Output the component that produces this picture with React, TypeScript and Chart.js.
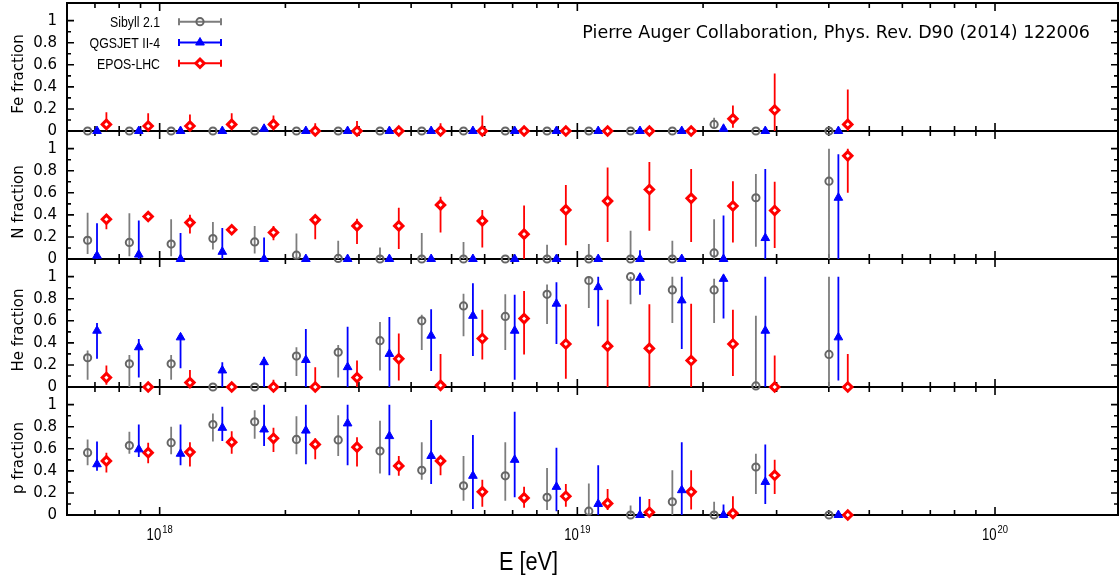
import React, { useEffect, useRef } from 'react';
import { Chart, registerables } from 'chart.js';

Chart.register(...registerables);

// ---------- data ----------
// energy bin centres, log10(E / eV)
const lgEnergy = [17.85, 17.95, 18.05, 18.15, 18.25, 18.35, 18.45, 18.55, 18.65, 18.75, 18.85, 18.95, 19.05, 19.15, 19.25, 19.35, 19.45, 19.625];

const modelNames = ['Sibyll 2.1', 'QGSJET II-4', 'EPOS-LHC'];
const panelTitles = ['Fe fraction', 'N fraction', 'He fraction', 'p fraction'];
const xTickValues = [1e18, 1e19, 1e20];
const xTickLabels = [['10', '18'], ['10', '19'], ['10', '20']];
const xTitle = 'E [eV]';
const noteText = 'Pierre Auger Collaboration, Phys. Rev. D90 (2014) 122006';

// each row: [fraction, lower end of error bar, upper end of error bar]
const feSibyll = [[0,0,0],[0,0,0],[0,0,0],[0,0,0],[0,0,0],[0,0,0],[0,0,0],[0,0,0],[0,0,0],[0,0,0],[0,0,0],[0,0,0],[0,0,0],[0,0,0],[0,0,0],[0.06,0.03,0.12],[0,0,0],[0,0,0.01]];
const feQgsjet = [[0,0,0],[0,0,0],[0,0,0],[0,0,0],[0.02,0,0.03],[0,0,0],[0,0,0],[0,0,0],[0,0,0],[0,0,0],[0,0,0],[0,0,0],[0,0,0],[0,0,0],[0,0,0],[0.02,0,0.05],[0,0,0],[0,0,0]];
const feEpos = [[0.06,0.02,0.17],[0.045,0,0.16],[0.045,0,0.15],[0.06,0.02,0.16],[0.06,0.03,0.14],[0,0,0.07],[0,0,0.09],[0,0,0.03],[0,0,0.07],[0,0,0.14],[0,0,0.02],[0,0,0.02],[0,0,0.01],[0,0,0.01],[0,0,0.01],[0.11,0.03,0.23],[0.19,0,0.52],[0.06,0,0.375]];

const nSibyll = [[0.17,0.045,0.42],[0.15,0.025,0.415],[0.135,0.025,0.36],[0.185,0.085,0.335],[0.155,0.05,0.30],[0.035,0,0.23],[0.005,0,0.165],[0,0,0.105],[0,0,0.235],[0,0,0.155],[0,0,0],[0,0,0.13],[0,0,0.135],[0,0,0.255],[0,0,0.165],[0.055,0,0.36],[0.555,0.11,0.77],[0.705,0,1.0]];
const nQgsjet = [[0.03,0,0.325],[0.04,0,0.35],[0,0,0.235],[0.065,0,0.28],[0,0,0.195],[0,0,0.01],[0,0,0],[0,0,0],[0,0,0],[0,0,0],[0,0,0.02],[0,0,0],[0,0,0],[0,0,0.08],[0,0,0],[0,0,0.395],[0.19,0,0.815],[0.555,0,0.95]];
const nEpos = [[0.36,0.27,0.405],[0.385,0.35,0.41],[0.33,0.23,0.40],[0.265,0.24,0.29],[0.24,0.17,0.30],[0.355,0.18,0.385],[0.30,0.135,0.365],[0.30,0.09,0.465],[0.49,0.24,0.565],[0.345,0.105,0.445],[0.225,0,0.485],[0.445,0.125,0.67],[0.525,0.155,0.83],[0.63,0.255,0.88],[0.55,0.155,0.815],[0.48,0.15,0.705],[0.44,0.10,0.70],[0.935,0.60,1.0]];

const heSibyll = [[0.265,0.065,0.33],[0.21,0,0.29],[0.21,0.065,0.29],[0,0,0],[0,0,0],[0.28,0.10,0.36],[0.315,0.085,0.38],[0.42,0.15,0.59],[0.60,0.335,0.655],[0.735,0.46,0.845],[0.64,0.335,0.84],[0.84,0.57,0.93],[0.965,0.715,1.0],[1.0,0.75,1.0],[0.88,0.58,1.0],[0.88,0.58,0.98],[0.01,0,0.645],[0.295,0,1.0]];
const heQgsjet = [[0.51,0.255,0.58],[0.36,0.085,0.435],[0.45,0.17,0.475],[0.15,0,0.225],[0.225,0,0.275],[0.245,0,0.525],[0.18,0,0.545],[0.30,0,0.635],[0.465,0.145,0.705],[0.645,0.28,0.94],[0.51,0.065,0.835],[0.755,0.39,0.95],[0.905,0.55,1.0],[0.99,0.835,1.0],[0.785,0.345,1.0],[0.98,0.62,1.0],[0.51,0,1.0],[0.45,0.06,1.0]];
const heEpos = [[0.085,0.02,0.195],[0,0,0.01],[0.04,0,0.155],[0,0,0.01],[0,0,0.065],[0,0,0.18],[0.085,0,0.24],[0.255,0.06,0.485],[0.015,0,0.30],[0.44,0.25,0.70],[0.62,0.295,0.87],[0.39,0.075,0.75],[0.37,0,0.79],[0.35,0,0.75],[0.24,0,0.755],[0.39,0.10,0.70],[0,0,0.285],[0,0,0.30]];

const pSibyll = [[0.565,0.45,0.685],[0.63,0.555,0.755],[0.655,0.55,0.80],[0.82,0.665,0.92],[0.845,0.69,0.95],[0.685,0.55,0.895],[0.68,0.535,0.905],[0.58,0.375,0.855],[0.405,0.32,0.66],[0.265,0.13,0.535],[0.355,0.13,0.66],[0.16,0.045,0.425],[0.035,0,0.285],[0,0,0.085],[0.12,0,0.405],[0,0,0.12],[0.435,0.19,0.555],[0,0,0.01]];
const pQgsjet = [[0.46,0.40,0.665],[0.595,0.525,0.82],[0.555,0.45,0.82],[0.79,0.67,0.98],[0.775,0.625,1.0],[0.765,0.46,1.0],[0.83,0.45,1.0],[0.715,0.36,1.0],[0.535,0.28,0.86],[0.355,0.055,0.725],[0.50,0.16,0.935],[0.255,0.035,0.61],[0.10,0,0.45],[0,0,0.165],[0.225,0,0.66],[0,0,0.095],[0.30,0.10,0.64],[0,0,0.01]];
const pEpos = [[0.49,0.385,0.565],[0.565,0.47,0.655],[0.57,0.44,0.66],[0.66,0.555,0.76],[0.695,0.57,0.79],[0.64,0.505,0.695],[0.615,0.44,0.705],[0.445,0.355,0.535],[0.49,0.36,0.535],[0.21,0.075,0.32],[0.155,0.065,0.255],[0.17,0.075,0.28],[0.105,0.045,0.235],[0.025,0,0.145],[0.21,0.05,0.405],[0.015,0,0.17],[0.36,0.19,0.50],[0,0,0.01]];

const panelData = [
  [feSibyll, feQgsjet, feEpos],
  [nSibyll, nQgsjet, nEpos],
  [heSibyll, heQgsjet, heEpos],
  [pSibyll, pQgsjet, pEpos],
];

// ---------- styles ----------
const axisIds = ['yFe', 'yN', 'yHe', 'yP'];
const modelShift = [-0.0225, 0, 0.0225]; // horizontal display offset (log10 units)
const modelStyle = [
  { pointStyle: 'circle', radius: 3.6, borderWidth: 2, color: '#666666', fill: 'rgba(0,0,0,0)', err: '#7d7d7d' },
  { pointStyle: 'triangle', radius: 5, borderWidth: 1, color: '#0000ff', fill: '#0000ff', err: '#0000ff' },
  { pointStyle: 'rectRot', radius: 4.2, borderWidth: 3, color: '#ff0000', fill: '#ffffff', err: '#ff0000' },
];
const SANS = '"DejaVu Sans", Verdana, sans-serif';
const HELV = '"Liberation Sans", Arial, sans-serif';

function narrowText(ctx: CanvasRenderingContext2D, text: string, x: number, y: number, size: number, align: CanvasTextAlign) {
  ctx.save();
  ctx.translate(x, y);
  ctx.scale(0.82, 1);
  ctx.font = `${size}px ${HELV}`;
  ctx.textAlign = align;
  ctx.textBaseline = 'alphabetic';
  ctx.fillText(text, 0, 0);
  ctx.restore();
}
function narrowWidth(ctx: CanvasRenderingContext2D, text: string, size: number) {
  ctx.font = `${size}px ${HELV}`;
  return ctx.measureText(text).width * 0.82;
}

function drawMarker(ctx: CanvasRenderingContext2D, kind: number, x: number, y: number) {
  const s = modelStyle[kind];
  ctx.save();
  ctx.beginPath();
  if (s.pointStyle === 'circle') {
    ctx.arc(x, y, s.radius, 0, Math.PI * 2);
  } else if (s.pointStyle === 'triangle') {
    const r = s.radius;
    ctx.moveTo(x, y - r);
    ctx.lineTo(x + 0.866 * r, y + 0.5 * r);
    ctx.lineTo(x - 0.866 * r, y + 0.5 * r);
    ctx.closePath();
  } else {
    const r = s.radius;
    ctx.moveTo(x - r, y); ctx.lineTo(x, y - r); ctx.lineTo(x + r, y); ctx.lineTo(x, y + r); ctx.closePath();
  }
  ctx.fillStyle = s.fill;
  ctx.fill();
  ctx.lineWidth = s.borderWidth;
  ctx.strokeStyle = s.color;
  ctx.stroke();
  ctx.restore();
}

const decorPlugin = {
  id: 'decor',
  beforeDatasetsDraw(chart: any) {
    const { ctx, chartArea } = chart;
    const xs = chart.scales.x;
    const L = chartArea.left, R = chartArea.right;
    ctx.save();
    axisIds.forEach((id) => {
      const ys = chart.scales[id];
      const top = ys.top, bot = ys.bottom;
      ctx.strokeStyle = '#000';
      ctx.lineWidth = 2;
      ctx.strokeRect(L, top, R - L, bot - top);
      ctx.lineWidth = 1.6;
      ctx.beginPath();
      ys.ticks.forEach((t: any) => {
        const k = Math.round(t.value * 10);
        if (Math.abs(t.value * 10 - k) > 1e-6) return;
        const len = k % 2 === 0 ? 7 : 4;
        const py = ys.getPixelForValue(t.value);
        ctx.moveTo(L, py); ctx.lineTo(L + len, py);
        ctx.moveTo(R, py); ctx.lineTo(R - len, py);
      });
      for (let d = 17; d <= 20; d++) {
        for (let m = 1; m <= 9; m++) {
          const v = m * Math.pow(10, d);
          if (v <= xs.min || v >= xs.max) continue;
          const px = xs.getPixelForValue(v);
          const len = m === 1 ? 8 : 5;
          ctx.moveTo(px, top); ctx.lineTo(px, top + len);
          ctx.moveTo(px, bot); ctx.lineTo(px, bot - len);
        }
      }
      ctx.stroke();
    });
    // error bars
    chart.data.datasets.forEach((ds: any, di: number) => {
      const meta = chart.getDatasetMeta(di);
      const ys = chart.scales[ds.yAxisID];
      ctx.strokeStyle = ds.errorColor;
      ctx.lineWidth = 1.8;
      ctx.beginPath();
      ds.data.forEach((p: any, i: number) => {
        if (p.hi - p.lo <= 0) return;
        const px = meta.data[i].x;
        ctx.moveTo(px, ys.getPixelForValue(p.lo));
        ctx.lineTo(px, ys.getPixelForValue(p.hi));
      });
      ctx.stroke();
    });
    ctx.restore();
  },
  afterDraw(chart: any) {
    const { ctx } = chart;
    const xs = chart.scales.x;
    ctx.save();
    ctx.fillStyle = '#000';
    // panel titles
    axisIds.forEach((id, pi) => {
      const ys = chart.scales[id];
      ctx.save();
      ctx.translate(23.3, (ys.top + ys.bottom) / 2 + 7);
      ctx.rotate(-Math.PI / 2);
      ctx.font = `15px ${SANS}`;
      ctx.textAlign = 'center';
      ctx.textBaseline = 'alphabetic';
      ctx.fillText(panelTitles[pi], 0, 0);
      ctx.restore();
    });
    // x tick labels
    const bottom = chart.chartArea.bottom;
    xTickValues.forEach((v, i) => {
      const px = xs.getPixelForValue(v);
      const [base, exp] = xTickLabels[i];
      const wb = narrowWidth(ctx, base, 16);
      const we = narrowWidth(ctx, exp, 11.5);
      const x0 = px - (wb + we + 1) / 2;
      narrowText(ctx, base, x0, bottom + 25, 16, 'left');
      narrowText(ctx, exp, x0 + wb + 1, bottom + 18, 11.5, 'left');
    });
    narrowText(ctx, xTitle, 528.5, bottom + 55, 26.5, 'center');
    // note
    ctx.font = `17.5px ${SANS}`;
    ctx.textAlign = 'right';
    ctx.textBaseline = 'alphabetic';
    ctx.fillText(noteText, 1090, 38.3);
    // legend
    modelNames.forEach((name, mi) => {
      const y = 21.7 + mi * 20.8;
      narrowText(ctx, name, 160, y + 5.2, 15, 'right');
      ctx.strokeStyle = modelStyle[mi].err;
      ctx.lineWidth = 2;
      ctx.beginPath();
      ctx.moveTo(179, y); ctx.lineTo(221, y);
      ctx.moveTo(179, y - 3.5); ctx.lineTo(179, y + 3.5);
      ctx.moveTo(221, y - 3.5); ctx.lineTo(221, y + 3.5);
      ctx.stroke();
      drawMarker(ctx, mi, 200, y);
    });
    ctx.restore();
  },
};

function noPad(s: any) {
  s.paddingTop = 0;
  s.paddingBottom = 0;
  s.paddingLeft = 0;
  s.paddingRight = 0;
}

function yAxis(title: string, weight: number) {
  return {
    type: 'linear',
    position: 'left',
    stack: 'panels',
    stackWeight: 1,
    weight,
    min: 0,
    max: 1.16,
    grid: { display: false, drawTicks: false, tickLength: 0 },
    border: { display: false },
    title: { display: false, text: title },
    ticks: {
      stepSize: 0.1,
      autoSkip: false,
      padding: 10,
      color: '#000',
      font: { family: SANS, size: 15 },
      callback: (v: number) => {
        const k = Math.round(v * 10);
        if (Math.abs(v * 10 - k) > 1e-6 || k % 2 !== 0 || k > 10) return '';
        if (k === 0) return '0';
        if (k === 10) return '1';
        return (k / 10).toFixed(1);
      },
    },
    afterFit: (s: any) => { s.width = 67; noPad(s); },
  };
}

export default function App() {
  const ref = useRef<HTMLCanvasElement>(null);
  useEffect(() => {
    const datasets: any[] = [];
    panelData.forEach((models, pi) => {
      models.forEach((rows, mi) => {
        const st = modelStyle[mi];
        datasets.push({
          label: modelNames[mi],
          yAxisID: axisIds[pi],
          xAxisID: 'x',
          data: rows.map((r, i) => ({ x: Math.pow(10, lgEnergy[i] + modelShift[mi]), y: r[0], lo: r[1], hi: r[2] })),
          pointStyle: st.pointStyle,
          pointRadius: st.radius,
          pointBorderWidth: st.borderWidth,
          borderColor: st.color,
          backgroundColor: st.fill,
          pointBackgroundColor: st.fill,
          pointBorderColor: st.color,
          errorColor: st.err,
          showLine: false,
          clip: false,
        });
      });
    });
    const chart = new Chart(ref.current as HTMLCanvasElement, {
      type: 'scatter',
      data: { datasets },
      options: {
        animation: false,
        responsive: false,
        devicePixelRatio: 1,
        events: [],
        layout: { autoPadding: false, padding: { left: 0, right: 2, top: 3, bottom: 0 } },
        plugins: { legend: { display: false }, tooltip: { enabled: false }, title: { display: false } },
        scales: {
          x: {
            type: 'logarithmic',
            position: 'bottom',
            min: 6e17,
            max: 1.97e20,
            grid: { display: false, drawTicks: false },
            border: { display: false },
            ticks: { display: false },
            title: { display: false, text: xTitle },
            afterFit: (s: any) => { s.height = 64; noPad(s); },
          },
          yFe: yAxis(panelTitles[0], 4),
          yN: yAxis(panelTitles[1], 3),
          yHe: yAxis(panelTitles[2], 2),
          yP: yAxis(panelTitles[3], 1),
        } as any,
      },
      plugins: [decorPlugin as any],
    } as any);
    return () => chart.destroy();
  }, []);
  return (
    <div style={{ position: 'absolute', left: 0, top: 0, width: 1120, height: 579, background: '#fff' }}>
      <canvas ref={ref} width={1120} height={579} style={{ display: 'block', width: 1120, height: 579 }} />
    </div>
  );
}
